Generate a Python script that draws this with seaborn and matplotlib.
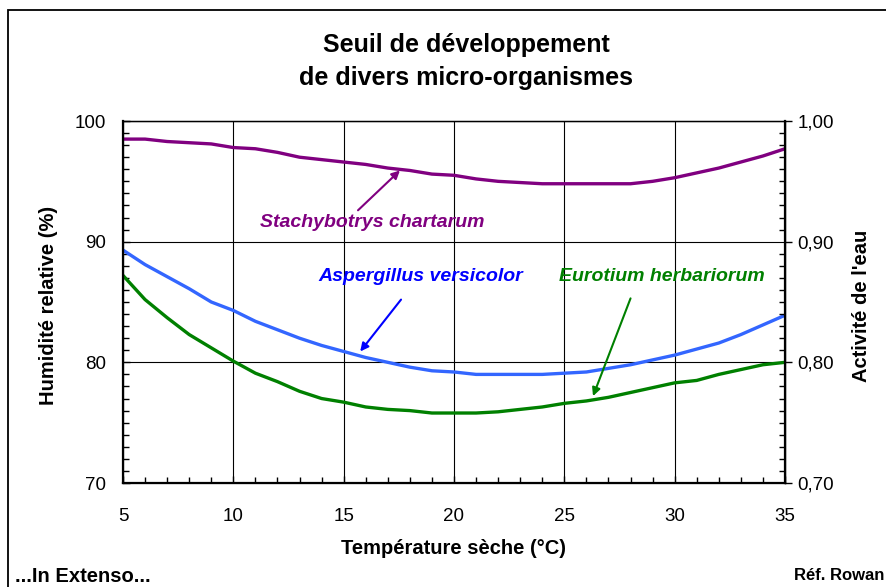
import numpy as np
import pandas as pd
import matplotlib
matplotlib.use("Agg")
import matplotlib.pyplot as plt
from matplotlib.patches import Rectangle
from matplotlib.ticker import MultipleLocator, FuncFormatter
import seaborn as sns

# temperature (°C)
temperature = list(range(5, 36))

# relative humidity thresholds (%)
stachybotrys = [98.5, 98.5, 98.3, 98.2, 98.1, 97.8, 97.7, 97.4, 97.0, 96.8,
                96.6, 96.4, 96.1, 95.9, 95.6, 95.5, 95.2, 95.0, 94.9, 94.8,
                94.8, 94.8, 94.8, 94.8, 95.0, 95.3, 95.7, 96.1, 96.6, 97.1, 97.7]
aspergillus = [89.3, 88.1, 87.1, 86.1, 85.0, 84.3, 83.4, 82.7, 82.0, 81.4,
               80.9, 80.4, 80.0, 79.6, 79.3, 79.2, 79.0, 79.0, 79.0, 79.0,
               79.1, 79.2, 79.5, 79.8, 80.2, 80.6, 81.1, 81.6, 82.3, 83.1, 83.9]
eurotium = [87.2, 85.2, 83.7, 82.3, 81.2, 80.1, 79.1, 78.4, 77.6, 77.0,
            76.7, 76.3, 76.1, 76.0, 75.8, 75.8, 75.8, 75.9, 76.1, 76.3,
            76.6, 76.8, 77.1, 77.5, 77.9, 78.3, 78.5, 79.0, 79.4, 79.8, 80.0]

species = ["Stachybotrys chartarum", "Aspergillus versicolor", "Eurotium herbariorum"]
line_colors = ["#800080", "#3366FF", "#008000"]
text_colors = ["#800080", "#0000FF", "#008000"]
# label position, arrow start, arrow end (data coords)
label_pos = [(16.3, 91.6), (18.5, 87.1), (29.4, 87.1)]
arrow_from = [(15.65, 92.6), (17.6, 85.2), (28.0, 85.3)]
arrow_to = [(17.55, 95.9), (15.75, 80.9), (26.3, 77.2)]

df = pd.DataFrame({
    "temperature": temperature * 3,
    "humidity": stachybotrys + aspergillus + eurotium,
    "species": [species[0]] * 31 + [species[1]] * 31 + [species[2]] * 31,
})

sns.set_style("ticks")
plt.rcParams["font.family"] = ["Liberation Sans", "DejaVu Sans"]
plt.rcParams["text.color"] = "black"
plt.rcParams["axes.labelcolor"] = "black"
plt.rcParams["axes.edgecolor"] = "black"
plt.rcParams["xtick.color"] = "black"
plt.rcParams["ytick.color"] = "black"

fig = plt.figure(figsize=(8.87, 5.87), dpi=100)
ax = fig.add_axes([123 / 887, 1 - 483 / 587, 662 / 887, 362 / 587])

sns.lineplot(data=df, x="temperature", y="humidity", hue="species",
             palette=dict(zip(species, line_colors)), linewidth=2.4,
             legend=False, ax=ax)

ax.set_xlim(5, 35)
ax.set_ylim(70, 100)
ax.xaxis.set_major_locator(MultipleLocator(5))
ax.xaxis.set_minor_locator(MultipleLocator(1))
ax.yaxis.set_major_locator(MultipleLocator(10))
ax.yaxis.set_minor_locator(MultipleLocator(1))
ax.grid(True, which="major", color="black", linewidth=0.8)
ax.tick_params(axis="both", which="major", direction="in", length=5,
               labelsize=13.5, width=1)
ax.tick_params(axis="x", which="major", pad=18)
ax.tick_params(axis="y", which="major", pad=12)
ax.tick_params(axis="both", which="minor", direction="in", length=4, width=1)
for side in ["left", "bottom"]:
    ax.spines[side].set_linewidth(1.6)
for side in ["top", "right"]:
    ax.spines[side].set_linewidth(1.0)

ax2 = ax.twinx()
ax2.set_ylim(0.70, 1.00)
ax2.yaxis.set_major_locator(MultipleLocator(0.1))
ax2.yaxis.set_minor_locator(MultipleLocator(0.01))
ax2.yaxis.set_major_formatter(FuncFormatter(lambda v, p: f"{v:.2f}".replace(".", ",")))
ax2.tick_params(axis="y", which="major", direction="out", length=5, width=1,
                labelsize=13.5, pad=4)
ax2.tick_params(axis="y", which="minor", direction="in", length=4, width=1)
ax2.spines["right"].set_linewidth(1.6)

ax.set_xlabel("Température sèche (°C)", fontsize=14.5, fontweight="bold")
ax.set_ylabel("Humidité relative (%)", fontsize=14.5, fontweight="bold")
ax2.set_ylabel("Activité de l'eau", fontsize=14.5, fontweight="bold")
ax.xaxis.label.set_va("center")
ax.xaxis.set_label_coords(0.5, -0.18)
ax.yaxis.label.set_va("center")
ax.yaxis.set_label_coords(-0.113, 0.49)
ax2.yaxis.label.set_va("center")
ax2.yaxis.set_label_coords(1.115, 0.49)

for name, tc, lp, a0, a1 in zip(species, text_colors, label_pos, arrow_from, arrow_to):
    ax.text(lp[0], lp[1], name, color=tc, fontsize=14, fontweight="bold",
            fontstyle="italic", ha="center", va="center")
    ax.annotate("", xy=a1, xytext=a0,
                arrowprops=dict(arrowstyle="-|>", color=tc, lw=1.5,
                                mutation_scale=12, shrinkA=0, shrinkB=0))

fig.text(466 / 887, 1 - 45 / 587, "Seuil de développement", ha="center",
         va="center", fontsize=18, fontweight="bold")
fig.text(466 / 887, 1 - 78 / 587, "de divers micro-organismes", ha="center",
         va="center", fontsize=18, fontweight="bold")
fig.text(15 / 887, 1 - 577 / 587, "...In Extenso...", ha="left", va="center",
         fontsize=14.5, fontweight="bold")
fig.text(884 / 887, 1 - 575 / 587, "Réf. Rowan", ha="right", va="center",
         fontsize=12, fontweight="bold")

fig.add_artist(Rectangle((8 / 887, -0.1), 1.2, 1.1 - 10 / 587,
                         transform=fig.transFigure, fill=False,
                         edgecolor="black", linewidth=1.3))

fig.savefig("out.png", dpi=100)
